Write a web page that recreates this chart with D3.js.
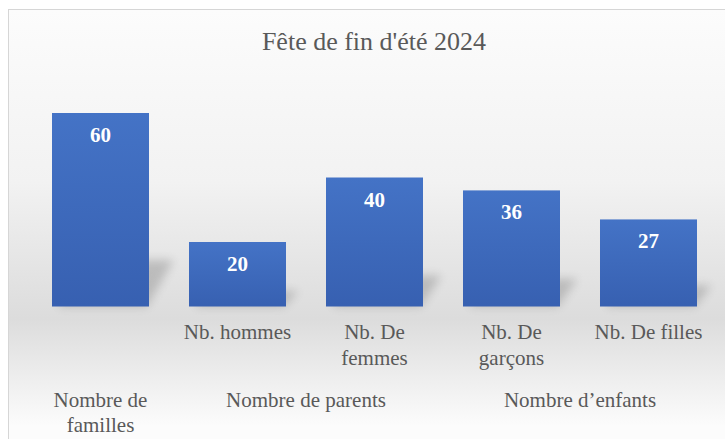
<!DOCTYPE html>
<html>
<head>
<meta charset="utf-8">
<script src="https://cdn.jsdelivr.net/npm/d3@7"></script>
<style>
  html, body { margin: 0; padding: 0; background: #ffffff; }
  svg { display: block; }
  svg text { font-family: "Liberation Serif", "Times New Roman", "DejaVu Serif", serif; }
</style>
</head>
<body>
<svg id="chart" width="725" height="439"></svg>
<script>
// ---- data ----
const title = "Fête de fin d'été 2024";
const keys = ["familles", "hommes", "femmes", "garcons", "filles"];
const subLabels = ["", "Nb. hommes", "Nb. De femmes", "Nb. De garçons", "Nb. De filles"];
const values = [60, 20, 40, 36, 27];
const groupLabels = ["Nombre de familles", "Nombre de parents", "Nombre d’enfants"];
const groupMembers = [["familles"], ["hommes", "femmes"], ["garcons", "filles"]];

// ---- setup ----
const W = 725, H = 439;
const svg = d3.select("#chart");
const defs = svg.append("defs");
const textColor = "#595959";

const bg = defs.append("linearGradient").attr("id", "bgGrad")
  .attr("gradientUnits", "userSpaceOnUse")
  .attr("x1", 0).attr("y1", 10).attr("x2", 0).attr("y2", 439);
[[0, "#fcfcfc"], [0.4, "#f2f2f2"], [0.72, "#dcdcdc"], [0.97, "#fcfcfc"]]
  .forEach(([o, c]) => bg.append("stop").attr("offset", o).attr("stop-color", c));

const barGrad = defs.append("linearGradient").attr("id", "barGrad")
  .attr("x1", 0).attr("y1", 0).attr("x2", 0).attr("y2", 1);
barGrad.append("stop").attr("offset", 0).attr("stop-color", "#4473c6");
barGrad.append("stop").attr("offset", 1).attr("stop-color", "#3760b1");

const blur = defs.append("filter").attr("id", "blur")
  .attr("x", "-50%").attr("y", "-50%").attr("width", "200%").attr("height", "200%");
blur.append("feGaussianBlur").attr("stdDeviation", 5);

svg.append("rect").attr("x", 8.5).attr("y", 9.5).attr("width", 740).attr("height", 450)
  .attr("fill", "url(#bgGrad)").attr("stroke", "#d6d6d6").attr("stroke-width", 1);

svg.append("text").attr("x", 374).attr("y", 50)
  .attr("text-anchor", "middle")
  .style("font-size", "26px").attr("fill", textColor)
  .text(title);

// ---- scales ----
const x = d3.scaleBand().domain(keys).range([32, 717]).paddingInner(0.292).paddingOuter(0.146);
const y = d3.scaleLinear().domain([0, 70]).range([306.5, 80.75]);

const data = keys.map((k, i) => ({ key: k, value: values[i], label: subLabels[i] }));

// shadows
svg.append("g").selectAll("path").data(data).join("path")
  .attr("d", d => {
    const x0 = x(d.key), x1 = x0 + x.bandwidth();
    const base = y(0), h = y(0) - y(d.value);
    const sh = h * 0.24, dx = 6 + sh * 0.4;
    return `M${x0 + 6},${base} L${x1 - 2},${base} L${x1 + dx},${base - sh} L${x0 + dx},${base - sh} Z`;
  })
  .attr("fill", "#8c8c8c").attr("opacity", 0.45).attr("filter", "url(#blur)");

// bars
svg.append("g").selectAll("rect").data(data).join("rect")
  .attr("x", d => x(d.key))
  .attr("y", d => y(d.value))
  .attr("width", x.bandwidth())
  .attr("height", d => y(0) - y(d.value))
  .attr("fill", "url(#barGrad)");

// value labels
svg.append("g").selectAll("text").data(data).join("text")
  .attr("x", d => x(d.key) + x.bandwidth() / 2)
  .attr("y", d => y(d.value) + 29)
  .attr("text-anchor", "middle")
  .style("font-size", "21px").style("font-weight", "bold")
  .attr("fill", "#ffffff")
  .text(d => d.value);

function wrap(sel, width, lineH) {
  sel.each(function () {
    const t = d3.select(this);
    const words = t.text().split(/\s+/).filter(w => w);
    const xx = t.attr("x");
    t.text(null);
    let line = [], ts = t.append("tspan").attr("x", xx).attr("dy", 0);
    words.forEach(w => {
      line.push(w);
      ts.text(line.join(" "));
      if (ts.node().getComputedTextLength() > width && line.length > 1) {
        line.pop();
        ts.text(line.join(" "));
        line = [w];
        ts = t.append("tspan").attr("x", xx).attr("dy", lineH).text(w);
      }
    });
  });
}

// sub category labels
svg.append("g").selectAll("text").data(data.filter(d => d.label)).join("text")
  .attr("x", d => x(d.key) + x.bandwidth() / 2)
  .attr("y", 339)
  .attr("text-anchor", "middle")
  .style("font-size", "21px").attr("fill", textColor)
  .text(d => d.label)
  .call(wrap, 120, 26);

// group labels
const groups = groupLabels.map((g, i) => {
  const m = groupMembers[i];
  const a = x(m[0]), b = x(m[m.length - 1]) + x.bandwidth();
  return { label: g, cx: (a + b) / 2, width: (b - a) + (x.step() - x.bandwidth()) };
});
svg.append("g").selectAll("text").data(groups).join("text")
  .attr("x", d => d.cx)
  .attr("y", 407)
  .attr("text-anchor", "middle")
  .style("font-size", "21px").attr("fill", textColor)
  .text(d => d.label)
  .each(function (d) { d3.select(this).call(wrap, d.width - 12, 25); });
</script>
</body>
</html>
